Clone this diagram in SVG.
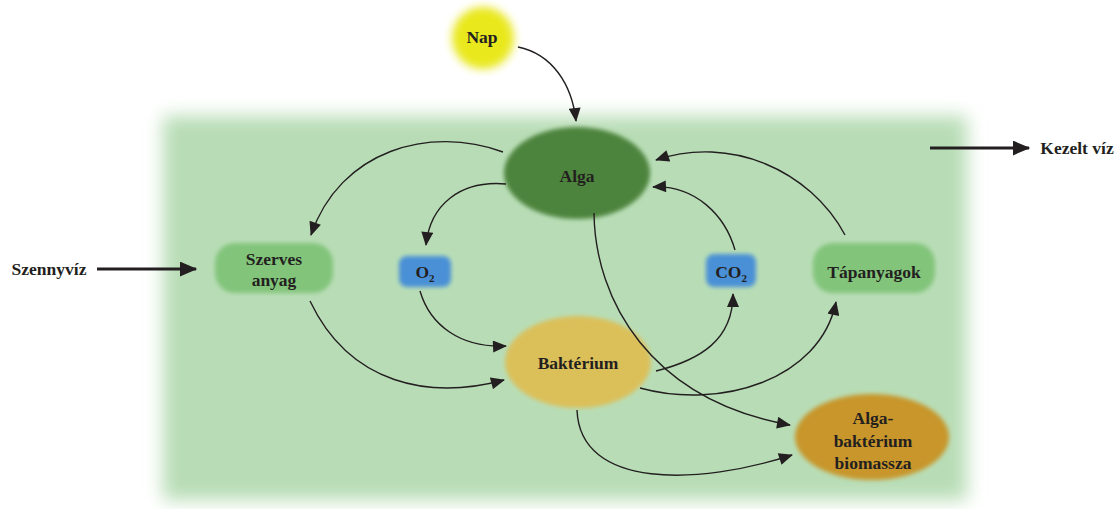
<svg xmlns="http://www.w3.org/2000/svg" width="1117" height="509" viewBox="0 0 1117 509">
<style>
text{font-family:"Liberation Serif","Times New Roman",serif;font-weight:bold;font-size:17.5px;fill:#231f20;text-anchor:middle}
.c{fill:none;stroke:#231f20;stroke-width:1.4}
.thick{stroke-width:2.8}
</style>
<defs>
<filter id="bg" x="-10%" y="-10%" width="120%" height="120%"><feGaussianBlur stdDeviation="9"/></filter>
<filter id="soft" x="-20%" y="-20%" width="140%" height="140%"><feGaussianBlur stdDeviation="2.2"/></filter>
<filter id="glow" x="-50%" y="-50%" width="200%" height="200%"><feGaussianBlur stdDeviation="4"/></filter>
<marker id="ah" viewBox="0 0 14 12" refX="13" refY="6" markerWidth="15" markerHeight="12" markerUnits="userSpaceOnUse" orient="auto"><path d="M0,0 L14,6 L0,12 Z" fill="#231f20"/></marker>
<marker id="ahb" viewBox="0 0 14 12" refX="13" refY="6" markerWidth="18" markerHeight="15" markerUnits="userSpaceOnUse" orient="auto"><path d="M0,0 L14,6 L0,12 Z" fill="#231f20"/></marker>
</defs>
<rect width="1117" height="509" fill="#ffffff"/>
<g id="background">
<rect x="163" y="116" width="804" height="384" fill="#b8ddb6" filter="url(#bg)"/>
</g>
<g id="nap">
<circle cx="483" cy="38" r="31" fill="#e9e81f" filter="url(#glow)"/>
<text x="482" y="43">Nap</text>
</g>
<g id="alga">
<ellipse cx="577" cy="173" rx="73" ry="46" fill="#4e843e" filter="url(#soft)"/>
<text x="577" y="182">Alga</text>
</g>
<g id="szerves">
<rect x="215" y="243" width="118" height="50" rx="20" fill="#82c47a" filter="url(#soft)"/>
<text x="274" y="265">Szerves</text>
<text x="274" y="286">anyag</text>
</g>
<g id="o2">
<rect x="399" y="256" width="52" height="31" rx="8" fill="#4a90d6" filter="url(#soft)"/>
<text x="425" y="278">O<tspan font-size="11" dy="4">2</tspan></text>
</g>
<g id="co2">
<rect x="706" y="254" width="50" height="33" rx="8" fill="#4a90d6" filter="url(#soft)"/>
<text x="731" y="278">CO<tspan font-size="11" dy="4">2</tspan></text>
</g>
<g id="tapanyagok">
<rect x="813" y="243" width="122" height="50" rx="20" fill="#82c47a" filter="url(#soft)"/>
<text x="874" y="278">Tápanyagok</text>
</g>
<g id="bakterium">
<ellipse cx="578" cy="362" rx="73" ry="46" fill="#dbc05a" filter="url(#soft)"/>
<text x="578" y="369">Baktérium</text>
</g>
<g id="biomassza">
<ellipse cx="872" cy="437" rx="77" ry="43" fill="#c8962b" filter="url(#soft)"/>
<text x="873" y="424">Alga-</text>
<text x="873" y="447">baktérium</text>
<text x="873" y="469">biomassza</text>
</g>
<g id="labels">
<text x="49" y="275">Szennyvíz</text>
<text x="1077" y="154">Kezelt víz</text>
</g>
<g id="connectors">
<line class="c thick" x1="97" y1="269" x2="196" y2="269" marker-end="url(#ahb)"/>
<line class="c thick" x1="930" y1="148" x2="1029" y2="148" marker-end="url(#ahb)"/>
<path class="c" d="M518,47 C552,54 572,84 576,121" marker-end="url(#ah)"/>
<path class="c" d="M503,152 C430,125 340,150 311,235" marker-end="url(#ah)"/>
<path class="c" d="M506,184 C460,180 430,205 426,245" marker-end="url(#ah)"/>
<path class="c" d="M420,291 C430,325 460,348 506,346" marker-end="url(#ah)"/>
<path class="c" d="M310,301 C350,385 430,400 504,380" marker-end="url(#ah)"/>
<path class="c" d="M656,371 C700,360 733,340 733,294" marker-end="url(#ah)"/>
<path class="c" d="M735,250 C725,215 695,185 653,187" marker-end="url(#ah)"/>
<path class="c" d="M845,235 C810,170 730,135 656,160" marker-end="url(#ah)"/>
<path class="c" d="M640,388 C720,410 820,380 836,302" marker-end="url(#ah)"/>
<path class="c" d="M594,213 C595,300 650,400 790,425" marker-end="url(#ah)"/>
<path class="c" d="M577,410 C580,490 700,485 792,455" marker-end="url(#ah)"/>
</g>
</svg>
